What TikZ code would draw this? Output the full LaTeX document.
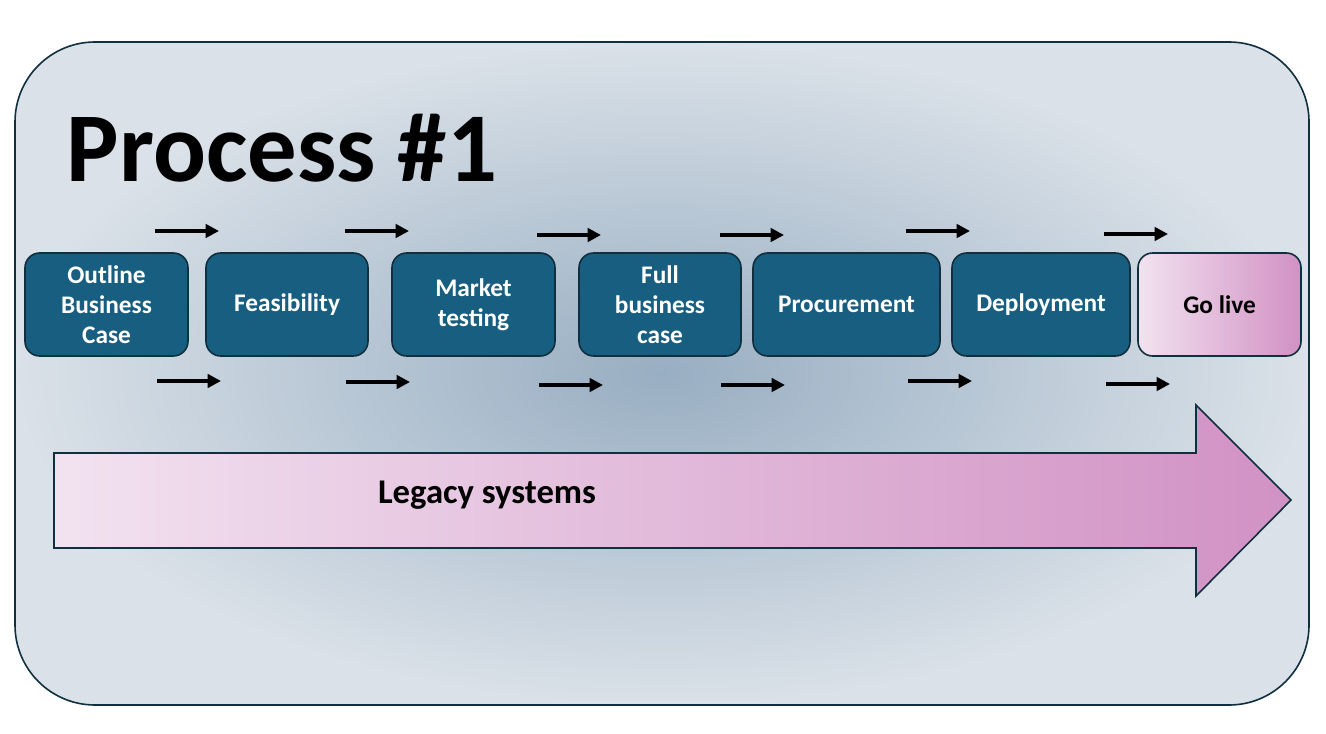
\documentclass[tikz,border=0pt]{standalone}
\usepackage{fontspec}
\setmainfont{Carlito}
\usetikzlibrary{arrows.meta}
\definecolor{boxblue}{HTML}{175E80}
\definecolor{edge}{HTML}{10303F}
\definecolor{pinkL}{HTML}{F2E2F0}
\definecolor{pinkR}{HTML}{D191C4}
\begin{document}
\begin{tikzpicture}[x=0.75pt,y=-0.75pt,
  stepbox/.style={draw=edge,line width=1.2pt,rounded corners=11pt,fill=boxblue,text=white,
    font=\fontsize{19}{22.5}\selectfont\bfseries,align=center,inner sep=0pt},
  flow/.style={-{Triangle[length=10pt,width=10pt]},line width=3pt,black}]
\useasboundingbox (0,0) rectangle (1326,734);
\fill[white] (0,0) rectangle (1326,734);
\shade[inner color={rgb,255:red,152;green,174;blue,194},outer color={rgb,255:red,218;green,225;blue,232}]
  [rounded corners=60pt] (15,42) rectangle (1309,705);
\draw[edge,line width=1.2pt,rounded corners=60pt] (15,42) rectangle (1309,705);
\node[anchor=west,font=\fontsize{74}{78}\selectfont\bfseries] (title) at (62,148) {Process \#1};
\newcommand\bx[4]{\pgfmathsetmacro\bw{(#3-#2)*0.75}\node[stepbox,minimum width=\bw pt,minimum height=77.25pt] (#1) at ({(#2+#3)/2},304.5) {#4};}
\bx{b1}{25}{188}{Outline\\Business\\Case}
\bx{b2}{206}{368}{Feasibility}
\bx{b3}{392}{555}{Market\\testing}
\bx{b4}{579}{741}{Full\\business\\case}
\bx{b5}{753}{940}{Procurement}
\bx{b6}{952}{1130}{Deployment}
\node[draw=edge,line width=1.2pt,rounded corners=11pt,left color=pinkL,right color=pinkR,
  minimum width=122.25pt,minimum height=77.25pt,font=\fontsize{19}{22.5}\selectfont\bfseries] (b7) at (1219.5,304.5) {Go live};
\foreach \n/\a/\y in {1/155/231,2/345/231,3/537/235,4/720/235,5/906/231,6/1104/234}{
  \coordinate (ts\n) at (\a,\y); \coordinate (te\n) at (\a+64,\y); \draw[flow] (ts\n) -- (te\n);}
\foreach \n/\a/\y in {1/157/381,2/346/382,3/539/385,4/721/385,5/908/381,6/1106/384}{
  \coordinate (bs\n) at (\a,\y); \coordinate (be\n) at (\a+64,\y); \draw[flow] (bs\n) -- (be\n);}
\path[draw=edge,line width=1.2pt,left color=pinkL,right color=pinkR]
  (54,453) -- (1196,453) -- (1196,405) -- (1291,500) -- (1196,596) -- (1196,548) -- (54,548) -- cycle;
\node[font=\fontsize{26}{30}\selectfont\bfseries] (legacy) at (487,495) {Legacy systems};
\end{tikzpicture}
\end{document}
